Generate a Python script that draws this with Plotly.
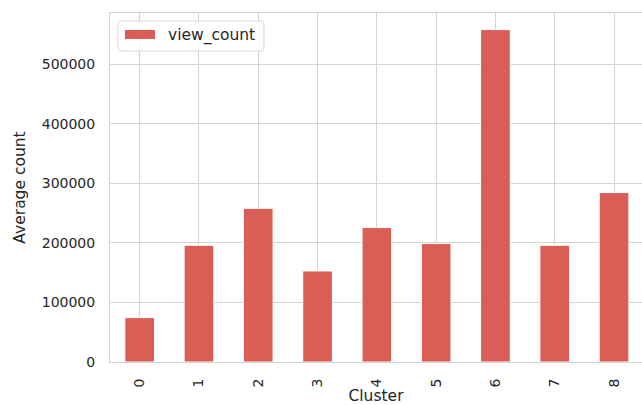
import plotly.graph_objects as go

clusters = ["0", "1", "2", "3", "4", "5", "6", "7", "8"]
view_count = [74600, 196100, 258300, 153000, 225900, 199000, 558600, 196100, 284700]
y_ticks = [0, 100000, 200000, 300000, 400000, 500000]
series_name = "view_count"

W, H = 642, 405
ML, MR, MT, MB = 110, 0, 13, 43
PW, PH = W - ML - MR, H - MT - MB

BAR = "#db5e56"
GRID = "#d4d4d4"
TXT = "#262626"
FONT = "DejaVu Sans"

fig = go.Figure()
fig.add_trace(go.Bar(
    x=clusters, y=view_count, name=series_name, width=0.5,
    marker=dict(color=BAR, line=dict(color="white", width=1)),
    showlegend=False,
))


def px_x(p):
    return (p - ML) / PW


def px_y(p):
    return (MT + PH - p) / PH


def rounded_rect(x0, y0, x1, y1, r):
    X = lambda v: f"{px_x(v):.5f}"
    Y = lambda v: f"{px_y(v):.5f}"
    return (f"M {X(x0+r)},{Y(y0)} L {X(x1-r)},{Y(y0)} Q {X(x1)},{Y(y0)} {X(x1)},{Y(y0+r)} "
            f"L {X(x1)},{Y(y1-r)} Q {X(x1)},{Y(y1)} {X(x1-r)},{Y(y1)} "
            f"L {X(x0+r)},{Y(y1)} Q {X(x0)},{Y(y1)} {X(x0)},{Y(y1-r)} "
            f"L {X(x0)},{Y(y0+r)} Q {X(x0)},{Y(y0)} {X(x0+r)},{Y(y0)} Z")


shapes = [
    dict(type="path", xref="paper", yref="paper",
         path=rounded_rect(118, 21, 264, 51, 3),
         line=dict(color="#d6d6d6", width=1), fillcolor="rgba(255,255,255,0.85)", layer="above"),
    dict(type="rect", xref="paper", yref="paper",
         x0=px_x(125), x1=px_x(155), y0=px_y(39), y1=px_y(30),
         line=dict(width=0), fillcolor=BAR, layer="above"),
]

annotations = [
    dict(text=series_name, xref="paper", yref="paper", x=px_x(166), y=px_y(35.5),
         xanchor="left", yanchor="middle", showarrow=False,
         font=dict(family=FONT, size=15.5, color=TXT)),
]

fig.update_layout(
    width=W, height=H, autosize=False,
    margin=dict(l=ML, r=MR, t=MT, b=MB, pad=0, autoexpand=False),
    paper_bgcolor="white", plot_bgcolor="white",
    font=dict(family=FONT, color=TXT, size=14),
    shapes=shapes, annotations=annotations,
)
fig.update_xaxes(
    type="category", range=[-0.5, -0.5 + PW / 59.3], automargin=False,
    tickangle=-90, ticks="", ticklabelstandoff=10,
    showgrid=True, gridcolor=GRID, gridwidth=1,
    showline=True, linecolor=GRID, linewidth=1, mirror=True,
    tickfont=dict(family=FONT, size=14, color=TXT),
    title=dict(text="Cluster", font=dict(family=FONT, size=15.5, color=TXT), standoff=0),
    zeroline=False,
)
fig.update_yaxes(
    range=[0, 586500], tickvals=y_ticks, ticktext=[str(v) for v in y_ticks], automargin=False,
    ticks="", ticklabelstandoff=11,
    showgrid=True, gridcolor=GRID, gridwidth=1,
    showline=True, linecolor=GRID, linewidth=1, mirror=False,
    tickfont=dict(family=FONT, size=14, color=TXT),
    title=dict(text="Average count", font=dict(family=FONT, size=15.5, color=TXT), standoff=12),
    zeroline=False,
)

fig.write_html("out.html", config={"displayModeBar": False},
               post_script="document.body.style.margin='0';document.body.style.overflow='hidden';")
